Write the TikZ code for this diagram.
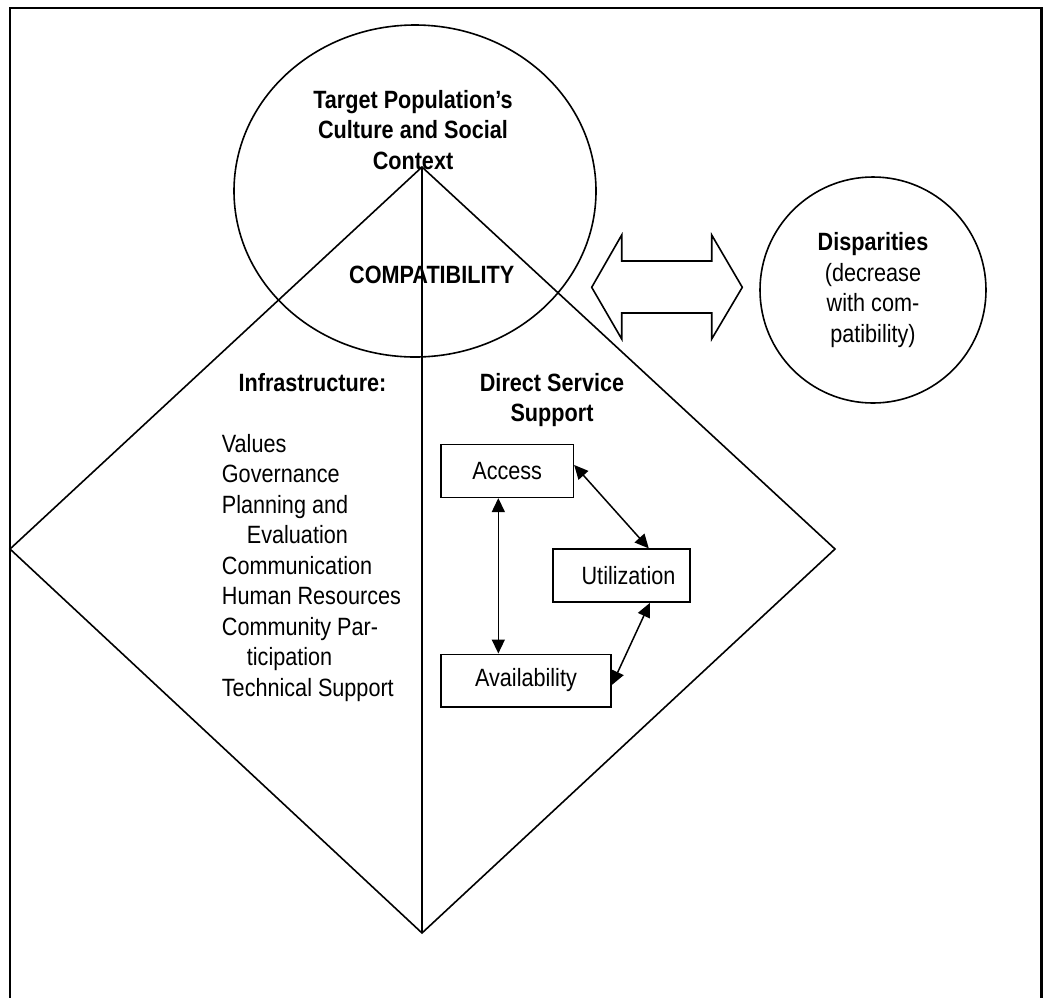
\documentclass[tikz,border=0pt]{standalone}
\usepackage{fontspec}
\setmainfont{Liberation Sans}[FakeStretch=0.865]
\usetikzlibrary{arrows.meta,shapes.geometric}
\begin{document}
\begin{tikzpicture}[x=1pt,y=-1pt,
  every node/.style={font=\fontsize{25}{30.5}\selectfont, inner sep=0pt},
  thin line/.style={line width=1.6pt},
  labeltext/.style={align=center},
  boxnode/.style={draw, line width=1.6pt, inner sep=0pt},
  link/.style={line width=1.5pt, {Triangle[length=14pt,width=13pt]}-{Triangle[length=14pt,width=13pt]}}]
\clip (0,0) rectangle (1045,997);
% frame
\draw[line width=2.2pt] (10,1010) -- (10,8) -- (1041.5,8) -- (1041.5,1010);
% culture circle
\node[draw, ellipse, thin line, minimum width=362pt, minimum height=332pt] (culture) at (415,191) {};
% diamond
\coordinate (dtop) at (422,167);
\coordinate (dright) at (835,549);
\coordinate (dbottom) at (422,933);
\coordinate (dleft) at (10,549);
\draw[thin line, line join=miter] (dtop) -- (dright) -- (dbottom) -- (dleft) -- cycle;
\draw[thin line] (dtop) -- (dbottom);
% texts
\node[labeltext, font=\fontsize{25}{30.5}\selectfont\bfseries] (culturetext) at (413,130) {Target Population’s\\Culture and Social\\Context};
\node[anchor=base, font=\fontsize{25}{30.5}\selectfont\bfseries] (compat) at (431.7,283) {COMPATIBILITY};
\node[anchor=base, font=\fontsize{25}{30.5}\selectfont\bfseries] (infra) at (312.5,391.7) {Infrastructure:};
\node[labeltext, font=\fontsize{25}{30.5}\selectfont\bfseries] (direct) at (552,400) {Direct Service\\Support};
\node[align=left, anchor=west] (infralist) at (221.7,568) {Values\\Governance\\Planning and\\\hspace*{25pt}Evaluation\\Communication\\Human Resources\\Community Par-\\\hspace*{25pt}ticipation\\Technical Support};
% disparities
\node[draw, circle, thin line, minimum size=226pt, labeltext] (disp) at (873,290) {\textbf{Disparities}\\(decrease\\with com-\\patibility)};
% double arrow
\draw[thin line, line join=miter] (591.7,287.3) -- (621.7,235) -- (621.7,261) -- (711.7,261) -- (711.7,235)
  -- (742.3,287.3) -- (711.7,339) -- (711.7,313) -- (621.7,313) -- (621.7,339) -- cycle;
% boxes
\node[boxnode, minimum width=132.3pt, minimum height=53pt] (access) at (507.2,470.8) {Access};
\node[boxnode, minimum width=137pt, minimum height=53pt] (util) at (621.5,575.7) {\hspace*{14pt}Utilization};
\node[boxnode, minimum width=170pt, minimum height=52.4pt] (avail) at (526,680.5) {Availability};
% links
\draw[link] (access.5) -- (util.45.5);
\draw[link] (access.-108.6) -- (access.-108.6 |- avail.north);
\draw[link] (avail.-3) -- (util.-44);
\end{tikzpicture}
\end{document}
